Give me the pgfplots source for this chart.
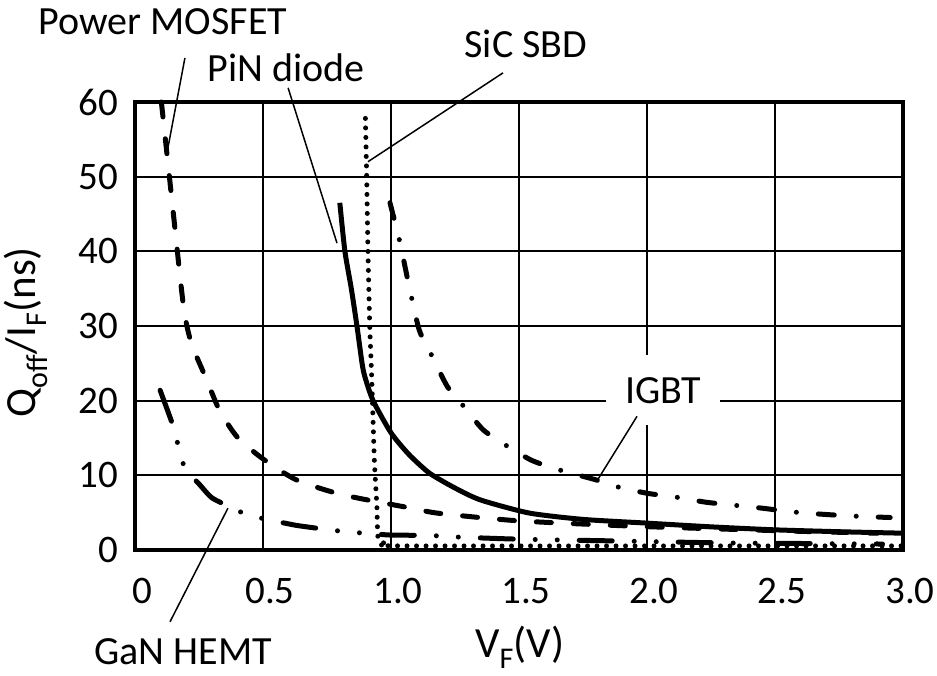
\documentclass[border=0pt]{standalone}
\usepackage{fontspec}
\setmainfont{Carlito}
\usepackage{pgfplots}
\pgfplotsset{compat=1.18}
\usepackage{pgfplotstable}

\pgfplotstableread{
x y
0.103 60
0.125 53
0.15 45
0.19 32.5
0.22 27.7
0.28 22.8
0.33 18.7
0.40 15.1
0.50 12.2
0.63 9.4
0.81 7.4
1.08 5.6
1.19 4.9
1.50 3.9
1.94 3.2
2.30 2.8
2.60 2.5
2.90 2.25
}\mosfet

\pgfplotstableread{
x y
0.80 46.5
0.82 40
0.845 35
0.867 30
0.887 25
0.898 23.2
0.93 20
1.0 15.7
1.07 12.8
1.15 10.3
1.25 8.3
1.35 6.7
1.54 4.95
1.75 4.1
2.0 3.6
2.25 3.1
2.5 2.7
2.75 2.45
3.0 2.25
}\pin

\pgfplotstableread{
x y
0.900 57.8
0.905 50
0.910 40
0.917 30
0.925 22.8
0.935 12
0.945 5.8
0.950 1.5
0.985 0.8
1.05 0.55
3.0 0.55
}\sic

\pgfplotstableread{
x y
0.996 46.5
1.035 41.2
1.066 36.1
1.11 29.5
1.16 26
1.22 21.9
1.28 19.4
1.36 16.1
1.45 14
1.55 12
1.66 10.7
1.80 9.4
1.88 8.5
2.0 7.6
2.11 7.1
2.23 6.4
2.34 6.0
2.45 5.6
2.57 5.1
2.68 4.8
2.80 4.55
2.95 4.35
}\igbt

\pgfplotstableread{
x y
0.098 21.4
0.15 16.5
0.17 13.8
0.195 11
0.254 8.7
0.30 7.0
0.37 5.8
0.44 4.7
0.53 4.0
0.63 3.3
0.76 2.7
0.84 2.4
0.92 2.2
1.0 2.0
1.15 1.95
1.25 1.75
1.5 1.45
1.9 1.2
2.3 0.95
2.7 0.85
2.92 0.8
}\gan

\begin{document}
\begin{tikzpicture}
\begin{axis}[
  width=768pt, height=448pt, scale only axis,
  xmin=0, xmax=3, ymin=0, ymax=60,
  xtick={0,0.5,1,1.5,2,2.5,3},
  xticklabels={0,0.5,1.0,1.5,2.0,2.5,3.0},
  ytick={0,10,20,30,40,50,60},
  /pgf/number format/assume math mode=true,
  grid=major,
  major grid style={black, line width=2pt},
  axis line style={black, line width=4pt},
  major tick length=0pt,
  tick label style={font=\fontsize{39}{44}\selectfont},
  xticklabel style={anchor=base, yshift=-53pt, xshift=7pt},
  yticklabel style={anchor=east, inner sep=0pt, xshift=-17pt},
  xlabel={V\textsubscript{F}(V)},
  ylabel={Q\textsubscript{off}/I\textsubscript{F}(ns)},
  xlabel style={at={(axis description cs:0.501,-0.2400)}, anchor=base, font=\fontsize{43}{48}\selectfont},
  ylabel style={at={(axis description cs:-0.1420,0.4866)}, anchor=center, font=\fontsize{43}{48}\selectfont},
  clip=false,
  every axis plot/.append style={black, line width=5pt, line cap=round},
]
\addplot[smooth, tension=0.4, dash pattern=on 15pt off 22pt] table {\mosfet};
\addplot[smooth, tension=0.4, line cap=butt] table {\pin};
\addplot[smooth, tension=0.3, line width=5pt, dash pattern=on 0pt off 9.5pt] table {\sic};
\addplot[smooth, tension=0.4, dash pattern=on 16pt off 22pt on 0pt off 22pt] table {\igbt};
\addplot[smooth, tension=0.4, dash pattern=on 33pt off 22pt on 0pt off 22pt on 0pt off 22pt] table {\gan};

\node[fill=white, minimum width=114pt, minimum height=70pt, inner sep=0pt, font=\fontsize{40}{44}\selectfont] at (axis cs:2.0625,21.4) {IGBT};

\draw[line width=1.5pt] (axis cs:0.195,65.9) -- (axis cs:0.125,53.2);
\draw[line width=1.5pt] (axis cs:0.598,61.9) -- (axis cs:0.789,41.1);
\draw[line width=1.5pt] (axis cs:1.4375,63.9) -- (axis cs:0.910,52.0);
\draw[line width=1.5pt] (axis cs:1.961,17.9) -- (axis cs:1.809,9.5);
\draw[line width=1.5pt] (axis cs:0.363,5.6) -- (axis cs:0.137,-9.6);

\node[anchor=base, font=\fontsize{40}{44}\selectfont] at (axis cs:0.109,69.0) {Power MOSFET};
\node[anchor=base, font=\fontsize{40}{44}\selectfont] at (axis cs:0.590,62.7) {PiN diode};
\node[anchor=base, font=\fontsize{40}{44}\selectfont] at (axis cs:1.527,66.0) {SiC SBD};
\node[anchor=base, font=\fontsize{40}{44}\selectfont] at (axis cs:0.188,-15.4) {GaN HEMT};
\end{axis}
\pgfresetboundingbox
\path[use as bounding box] (-135pt,-125pt) rectangle (802pt,550pt);
\end{tikzpicture}
\end{document}
